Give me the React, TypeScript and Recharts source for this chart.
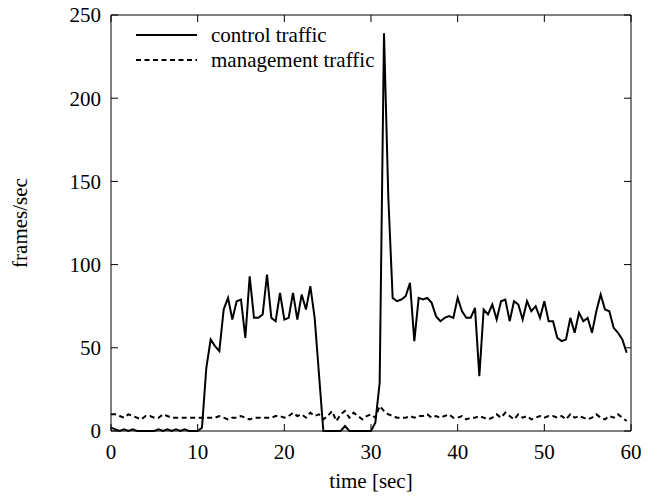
import React from 'react';
import { LineChart, Line, XAxis, YAxis, Legend } from 'recharts';

const times = [
  0, 0.5, 1, 1.5, 2, 2.5, 3, 3.5, 4, 4.5, 5, 5.5, 6, 6.5, 7, 7.5, 8, 8.5, 9, 9.5,
  10, 10.5, 11, 11.5, 12, 12.5, 13, 13.5, 14, 14.5, 15, 15.5, 16, 16.5, 17, 17.5, 18, 18.5, 19, 19.5,
  20, 20.5, 21, 21.5, 22, 22.5, 23, 23.5, 24, 24.5, 25, 25.5, 26, 26.5, 27, 27.5, 28, 28.5, 29, 29.5,
  30, 30.5, 31, 31.5, 32, 32.5, 33, 33.5, 34, 34.5, 35, 35.5, 36, 36.5, 37, 37.5, 38, 38.5, 39, 39.5,
  40, 40.5, 41, 41.5, 42, 42.5, 43, 43.5, 44, 44.5, 45, 45.5, 46, 46.5, 47, 47.5, 48, 48.5, 49, 49.5,
  50, 50.5, 51, 51.5, 52, 52.5, 53, 53.5, 54, 54.5, 55, 55.5, 56, 56.5, 57, 57.5, 58, 58.5, 59, 59.5,
];

const controlTraffic = [
  2, 1, 0, 1, 0, 1, 0, 0, 0, 0, 0, 1, 0, 1, 0, 1, 0, 1, 0, 0, 0,
  2, 38, 55, 51, 48, 73, 80, 67, 78, 79, 56, 93, 68, 68, 70, 94, 68, 66, 83, 67, 68, 83, 67, 82, 73, 87, 68, 34,
  0, 0, 0, 0, 0, 3, 0, 0, 0, 0, 0, 0, 5, 29,
  239, 140, 80, 78, 79, 81, 89, 54, 80, 79, 80, 77, 69, 66, 68, 69, 68, 80, 72, 68, 68, 74, 33, 73, 70, 76, 67, 78, 79, 66,
  78, 76, 67, 78, 72, 75, 68, 78, 66, 66, 56, 54, 55, 68, 59, 71, 66, 68, 59, 72, 82, 73, 72, 62, 59, 55, 47,
];

const managementTraffic = [
  10, 10, 9, 8, 10, 9, 8, 7, 9, 9, 8, 8, 10, 9, 8, 8, 8, 8, 8, 8, 8,
  8, 8, 8, 8, 9, 8, 7, 8, 8, 9, 8, 7, 8, 8, 8, 8, 8, 9, 9, 8, 9, 11, 9, 10, 8, 11, 9, 10,
  7, 9, 12, 6, 10, 12, 8, 11, 9, 7, 9, 10, 8, 15,
  12, 10, 9, 8, 8, 8, 9, 8, 9, 9, 10, 8, 9, 8, 9, 10, 8, 8, 9, 7, 8, 8, 9, 8, 7, 8, 10, 8, 11, 9,
  7, 10, 8, 9, 7, 8, 9, 8, 9, 9, 8, 9, 7, 10, 8, 9, 8, 7, 8, 10, 8, 7, 9, 8, 10, 8, 6,
];

const xTicks = [0, 10, 20, 30, 40, 50, 60];
const yTicks = [0, 50, 100, 150, 200, 250];
const seriesNames = ['control traffic', 'management traffic'];
const xTitle = 'time [sec]';
const yTitle = 'frames/sec';

const FONT = "'Liberation Serif', 'Times New Roman', serif";
const FS = 21;

const data = times.map((t, i) => ({
  t,
  control: controlTraffic[i],
  management: managementTraffic[i],
}));

const LegendBox = (props: any) => {
  const payload = props.payload || [];
  return (
    <svg width={270} height={56} style={{ display: 'block' }}>
      {payload.map((p: any, i: number) => (
        <g key={i}>
          <line
            x1={6}
            x2={67}
            y1={15 + i * 25}
            y2={15 + i * 25}
            stroke="#000"
            strokeWidth={2}
            strokeDasharray={i === 1 ? '5 3.5' : undefined}
          />
          <text x={81} y={22 + i * 25} fontFamily={FONT} fontSize={FS} fill="#000">
            {p.value}
          </text>
        </g>
      ))}
    </svg>
  );
};

const YTitle = (props: any) => {
  const vb = props.viewBox || { x: 0, y: 0, width: 0, height: 0 };
  const cx = vb.x + 20;
  const cy = vb.y + vb.height / 2;
  return (
    <text
      x={cx}
      y={cy}
      transform={`rotate(-90, ${cx}, ${cy})`}
      textAnchor="middle"
      dominantBaseline="central"
      fontFamily={FONT}
      fontSize={FS}
      fill="#000"
    >
      {yTitle}
    </text>
  );
};

const XTitle = (props: any) => {
  const vb = props.viewBox || { x: 0, y: 0, width: 0, height: 0 };
  const cx = vb.x + vb.width / 2;
  const cy = vb.y + 50;
  return (
    <text x={cx} y={cy} textAnchor="middle" dominantBaseline="central" fontFamily={FONT} fontSize={FS} fill="#000">
      {xTitle}
    </text>
  );
};

export default function App() {
  const tickStyle = { fill: '#000', fontSize: FS, fontFamily: FONT };
  return (
    <div style={{ position: 'absolute', left: 0, top: 0, background: '#fff' }}>
      <LineChart width={657} height={497} data={data} margin={{ top: 14, right: 25, bottom: 0, left: 0 }}>
        <XAxis
          dataKey="t"
          type="number"
          domain={[0, 60]}
          ticks={xTicks}
          height={66}
          tickSize={-7}
          tickMargin={20}
          stroke="#000"
          tickLine={{ stroke: '#000' }}
          tick={tickStyle}
          label={<XTitle />}
        />
        <XAxis
          xAxisId="top"
          orientation="top"
          dataKey="t"
          type="number"
          domain={[0, 60]}
          ticks={xTicks}
          height={1}
          tickSize={-7}
          tickFormatter={() => ''}
          stroke="#000"
          tickLine={{ stroke: '#000' }}
        />
        <YAxis
          type="number"
          domain={[0, 250]}
          ticks={yTicks}
          width={111}
          tickSize={-7}
          tickMargin={17}
          stroke="#000"
          tickLine={{ stroke: '#000' }}
          tick={tickStyle}
          label={<YTitle />}
        />
        <YAxis
          yAxisId="right"
          orientation="right"
          type="number"
          domain={[0, 250]}
          ticks={yTicks}
          width={1}
          tickSize={-7}
          tickFormatter={() => ''}
          stroke="#000"
          tickLine={{ stroke: '#000' }}
        />
        <Line
          dataKey="control"
          name={seriesNames[0]}
          stroke="#000"
          strokeWidth={2}
          dot={false}
          isAnimationActive={false}
        />
        <Line
          dataKey="management"
          name={seriesNames[1]}
          xAxisId="top"
          yAxisId="right"
          stroke="#000"
          strokeWidth={2}
          strokeDasharray="5 3.5"
          dot={false}
          isAnimationActive={false}
        />
        <Legend
          layout="vertical"
          align="center"
          verticalAlign="middle"
          content={<LegendBox />}
          wrapperStyle={{ position: 'absolute', left: 130, top: 20, width: 270, height: 56 }}
        />
      </LineChart>
    </div>
  );
}
